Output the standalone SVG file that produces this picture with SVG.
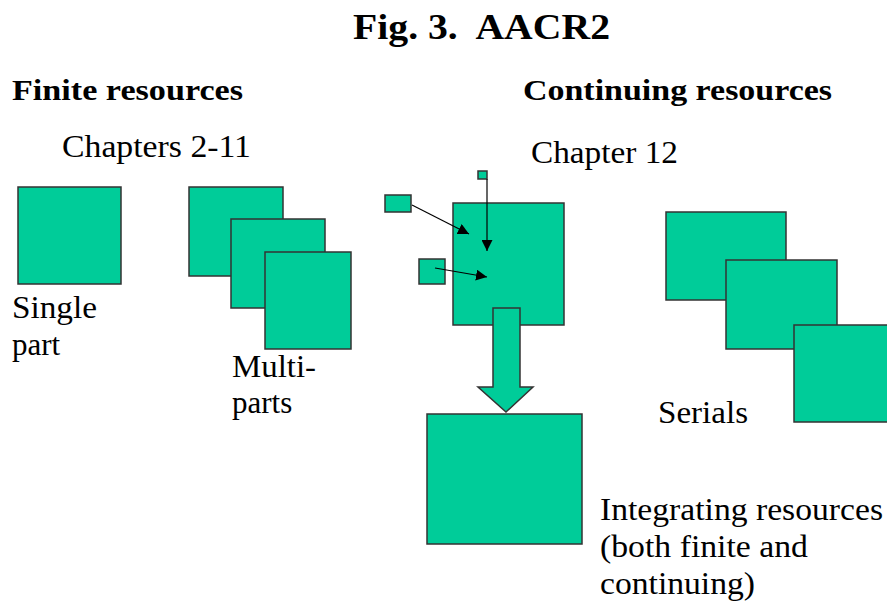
<svg xmlns="http://www.w3.org/2000/svg" width="887" height="603" viewBox="0 0 887 603">
<style>
.box{fill:#00CC99;stroke:#333333;stroke-width:1.5}
.t{font-family:"Liberation Serif","Times New Roman",serif;fill:#000}
.r{font-size:31px}
.b{font-size:30px;font-weight:bold}
.title{font-size:36px;font-weight:bold;white-space:pre}
.ln{stroke:#000;stroke-width:1.2;fill:none}
</style>
<defs>
<marker id="ah" viewBox="0 0 10 10" refX="10" refY="5" markerWidth="11" markerHeight="11" markerUnits="userSpaceOnUse" orient="auto">
<path d="M0,0 L10,5 L0,10 Z" fill="#000"/>
</marker>
</defs>
<rect width="887" height="603" fill="#fff"/>
<g id="labels">
<text class="t title" x="353" y="39" xml:space="preserve" textLength="257" lengthAdjust="spacingAndGlyphs">Fig. 3.  AACR2</text>
<text class="t b" x="12" y="100" textLength="231" lengthAdjust="spacingAndGlyphs">Finite resources</text>
<text class="t b" x="523" y="100" textLength="309" lengthAdjust="spacingAndGlyphs">Continuing resources</text>
<text class="t r" x="62" y="157" textLength="189" lengthAdjust="spacingAndGlyphs">Chapters 2-11</text>
<text class="t r" x="531" y="163" textLength="147" lengthAdjust="spacingAndGlyphs">Chapter 12</text>
</g>
<g id="single-part">
<rect class="box" x="18" y="187" width="103" height="97"/>
<text class="t r" x="12" y="318" textLength="85" lengthAdjust="spacingAndGlyphs">Single</text>
<text class="t r" x="12" y="355">part</text>
</g>
<g id="multi-parts">
<rect class="box" x="189" y="187" width="94" height="89"/>
<rect class="box" x="231" y="219" width="94" height="89"/>
<rect class="box" x="265" y="252" width="86" height="97"/>
<text class="t r" x="232" y="377" textLength="84" lengthAdjust="spacingAndGlyphs">Multi-</text>
<text class="t r" x="232" y="413">parts</text>
</g>
<g id="chapter12">
<rect class="box" x="453" y="203" width="111" height="122"/>
<rect class="box" x="385" y="195" width="26" height="17"/>
<rect class="box" x="419" y="259" width="26" height="25"/>
<rect class="box" x="478" y="171" width="9" height="8"/>
</g>
<g id="connectors">
<line class="ln" x1="412" y1="205" x2="469" y2="234" marker-end="url(#ah)"/>
<line class="ln" x1="487" y1="179" x2="487" y2="251" marker-end="url(#ah)"/>
<line class="ln" x1="435" y1="268" x2="487" y2="277" marker-end="url(#ah)"/>
<polygon class="box" points="493,308 520,308 520,387 533,387 506,412 478,387 493,387"/>
</g>
<g id="integrating">
<rect class="box" x="427" y="414" width="155" height="130"/>
<text class="t r" x="600" y="520" textLength="283" lengthAdjust="spacingAndGlyphs">Integrating resources</text>
<text class="t r" x="600" y="557" textLength="208" lengthAdjust="spacingAndGlyphs">(both finite and</text>
<text class="t r" x="600" y="594" textLength="155" lengthAdjust="spacingAndGlyphs">continuing)</text>
</g>
<g id="serials">
<rect class="box" x="666" y="212" width="120" height="88"/>
<rect class="box" x="726" y="260" width="111" height="89"/>
<rect class="box" x="794" y="325" width="100" height="97"/>
<text class="t r" x="658" y="423" textLength="90" lengthAdjust="spacingAndGlyphs">Serials</text>
</g>
</svg>
